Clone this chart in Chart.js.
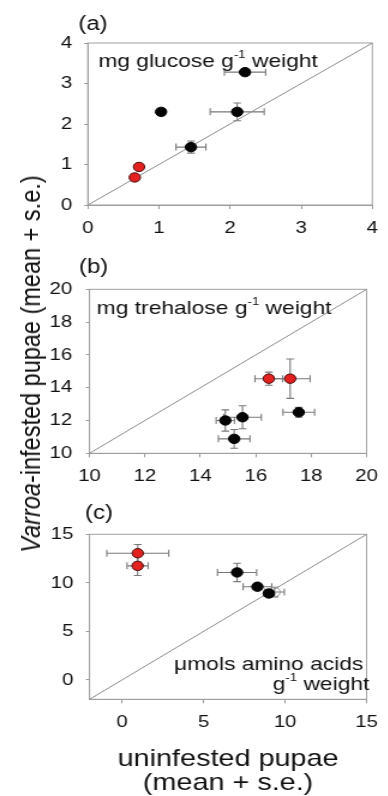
<!DOCTYPE html>
<html>
<head>
<meta charset="utf-8">
<script src="https://cdn.jsdelivr.net/npm/chart.js@4.4.1/dist/chart.umd.min.js"></script>
<style>
  html, body { margin: 0; padding: 0; background: #fff; }
  body { width: 388px; height: 796px; overflow: hidden; position: relative; }
  /* the source figure is stretched sideways, so draw narrow and widen it */
  #fig { position: absolute; left: 0; top: 0; width: 324px; height: 796px; transform: scaleX(1.2); transform-origin: 0 0; }
  #fig canvas { position: absolute; left: 0; }
  #ytitle { position: absolute; left: 26.3px; top: 364px; transform: translate(-50%, -50%) rotate(-90deg);
            white-space: nowrap; font: 23.5px "Liberation Sans", Arial, sans-serif; color: #111; }
</style>
</head>
<body>
<div id="fig">
  <canvas id="chartA" width="324" height="245" style="top:0px"></canvas>
  <canvas id="chartB" width="324" height="245" style="top:245px"></canvas>
  <canvas id="chartC" width="324" height="306" style="top:490px"></canvas>
  <div id="ytitle"><i>Varroa</i>-infested pupae (mean + s.e.)</div>
</div>
<script>
Chart.defaults.font.family = '"Liberation Sans", Arial, Helvetica, sans-serif';
Chart.defaults.color = '#111';

// (a) glucose
const rangeA = [0, 4];
const ticksA = [0, 1, 2, 3, 4];
const blackA_x = [2.21, 1.03, 2.10, 1.45];
const blackA_y = [3.28, 2.30, 2.30, 1.43];
const blackA_xErr = [0.29, 0.05, 0.38, 0.21];
const blackA_yErr = [0.06, 0.06, 0.22, 0.15];
const redA_x = [0.72, 0.66];
const redA_y = [0.94, 0.68];
const redA_xErr = [0, 0];
const redA_yErr = [0, 0];

// (b) trehalose
const rangeB = [10, 20];
const ticksB = [10, 12, 14, 16, 18, 20];
const blackB_x = [14.90, 15.52, 15.22, 17.55];
const blackB_y = [12.00, 12.20, 10.88, 12.50];
const blackB_xErr = [0.33, 0.68, 0.57, 0.57];
const blackB_yErr = [0.65, 0.70, 0.57, 0.30];
const redB_x = [16.47, 17.24];
const redB_y = [14.55, 14.55];
const redB_xErr = [0.50, 0.72];
const redB_yErr = [0.40, 1.20];

// (c) amino acids
const rangeC = [-2, 15];
const ticksC = [0, 5, 10, 15];
const blackC_x = [7.05, 8.30, 9.00];
const blackC_y = [11.07, 9.60, 8.90];
const blackC_xErr = [1.20, 0.88, 0.30];
const blackC_yErr = [0.95, 0.30, 0.30];
const redC_x = [0.96, 0.95];
const redC_y = [13.05, 11.75];
const redC_xErr = [1.90, 0.65];
const redC_yErr = [0.90, 1.00];
const openC_x = [9.35];
const openC_y = [9.05];
const openC_xErr = [0.60];
const openC_yErr = [0.50];

function pts(xs, ys) { return xs.map((x, i) => ({ x: x, y: ys[i] })); }

function markers(xs, ys, xErr, yErr, fill, edge) {
  return { data: pts(xs, ys), xErr: xErr, yErr: yErr, backgroundColor: fill, borderColor: edge,
           borderWidth: 1, pointRadius: 4.7, pointHoverRadius: 4.7 };
}

function diagonal(range) {
  return { data: pts(range, range), showLine: true, pointRadius: 0, borderColor: '#8c8c8c', borderWidth: 1 };
}

function richText(ctx, parts, x, y, align) {
  const big = '19px "Liberation Sans", Arial, sans-serif';
  const small = '11px "Liberation Sans", Arial, sans-serif';
  let w = 0;
  parts.forEach(p => { ctx.font = p[1] ? small : big; w += ctx.measureText(p[0]).width; });
  let cx = align === 'right' ? x - w : x;
  ctx.textAlign = 'left';
  ctx.textBaseline = 'middle';
  parts.forEach(p => {
    ctx.font = p[1] ? small : big;
    ctx.fillText(p[0], cx, p[1] ? y - 7 : y);
    cx += ctx.measureText(p[0]).width;
  });
}

// box around the plot, error bars under the points, panel letter and note on top
const panelDecor = {
  id: 'panelDecor',
  beforeDatasetsDraw(chart) {
    const { ctx, chartArea: a, scales: { x, y } } = chart;
    ctx.save();
    ctx.strokeStyle = '#a0a0a0';
    ctx.lineWidth = 1;
    ctx.strokeRect(a.left, a.top, a.right - a.left, a.bottom - a.top);
    ctx.strokeStyle = '#7a7a7a';
    ctx.lineWidth = 1.1;
    const capX = 3.2, capY = 3.5;
    chart.data.datasets.forEach(ds => {
      if (!ds.xErr) return;
      ds.data.forEach((p, i) => {
        const px = x.getPixelForValue(p.x), py = y.getPixelForValue(p.y);
        ctx.beginPath();
        if (ds.xErr[i] > 0) {
          const x0 = x.getPixelForValue(p.x - ds.xErr[i]), x1 = x.getPixelForValue(p.x + ds.xErr[i]);
          ctx.moveTo(x0, py); ctx.lineTo(x1, py);
          ctx.moveTo(x0, py - capY); ctx.lineTo(x0, py + capY);
          ctx.moveTo(x1, py - capY); ctx.lineTo(x1, py + capY);
        }
        if (ds.yErr[i] > 0) {
          const y0 = y.getPixelForValue(p.y - ds.yErr[i]), y1 = y.getPixelForValue(p.y + ds.yErr[i]);
          ctx.moveTo(px, y0); ctx.lineTo(px, y1);
          ctx.moveTo(px - capX, y0); ctx.lineTo(px + capX, y0);
          ctx.moveTo(px - capX, y1); ctx.lineTo(px + capX, y1);
        }
        ctx.stroke();
      });
    });
    ctx.restore();
  },
  afterDraw(chart, args, opts) {
    const ctx = chart.ctx;
    ctx.save();
    ctx.fillStyle = '#111';
    ctx.font = '20px "Liberation Sans", Arial, sans-serif';
    ctx.textAlign = 'left';
    ctx.textBaseline = 'middle';
    ctx.fillText(opts.label, opts.labelX, opts.labelY);
    opts.notes.forEach(n => richText(ctx, n.parts, n.x, n.y, n.align));
    ctx.restore();
  }
};

function makeChart(id, c) {
  const H = document.getElementById(id).height;
  const padBottom = 0;
  return new Chart(document.getElementById(id), {
    type: 'scatter',
    data: { datasets: c.datasets },
    options: {
      responsive: false,
      animation: false,
      devicePixelRatio: 1,
      layout: { padding: { top: c.box.top, right: 324 - c.box.right, left: 0, bottom: padBottom } },
      plugins: { legend: { display: false }, tooltip: { enabled: false }, panelDecor: c.decor },
      scales: {
        x: {
          type: 'linear', min: c.range[0], max: c.range[1],
          afterBuildTicks: s => { s.ticks = c.ticks.map(v => ({ value: v })); },
          afterFit: s => { s.height = H - c.box.bottom - padBottom; },
          grid: { drawOnChartArea: false, tickLength: 4, color: '#9a9a9a' },
          border: { color: '#9a9a9a' },
          ticks: { padding: 9, font: { size: 17 }, maxRotation: 0, color: '#111' },
          title: c.xTitle || { display: false }
        },
        y: {
          type: 'linear', min: c.range[0], max: c.range[1],
          afterBuildTicks: s => { s.ticks = c.ticks.map(v => ({ value: v })); },
          afterFit: s => { s.width = c.box.left; },
          grid: { drawOnChartArea: false, tickLength: 3, color: '#9a9a9a' },
          border: { color: '#9a9a9a' },
          ticks: { padding: c.yPad, font: { size: 17 }, color: '#111' }
        }
      }
    },
    plugins: [panelDecor]
  });
}

makeChart('chartA', {
  range: rangeA, ticks: ticksA, yPad: 10,
  box: { left: 73.2, right: 313.3, top: 43, bottom: 205 },
  datasets: [
    markers(redA_x, redA_y, redA_xErr, redA_yErr, '#e3211f', '#4a0a0a'),
    markers(blackA_x, blackA_y, blackA_xErr, blackA_yErr, '#050505', '#000'),
    diagonal(rangeA)
  ],
  decor: { label: '(a)', labelX: 65.3, labelY: 24,
           notes: [{ parts: [['mg glucose g'], ['-1', 1], [' weight']], x: 81.9, y: 62, align: 'left' }] }
});

makeChart('chartB', {
  range: rangeB, ticks: ticksB, yPad: 11.5,
  box: { left: 74.6, right: 309, top: 44.3, bottom: 208.3 },
  datasets: [
    markers(redB_x, redB_y, redB_xErr, redB_yErr, '#e3211f', '#4a0a0a'),
    markers(blackB_x, blackB_y, blackB_xErr, blackB_yErr, '#050505', '#000'),
    diagonal(rangeB)
  ],
  decor: { label: '(b)', labelX: 65.8, labelY: 22.5,
           notes: [{ parts: [['mg trehalose g'], ['-1', 1], [' weight']], x: 80.6, y: 63.5, align: 'left' }] }
});

makeChart('chartC', {
  range: rangeC, ticks: ticksC, yPad: 10.5,
  box: { left: 74.6, right: 311.7, top: 44.3, bottom: 209.3 },
  datasets: [
    markers(redC_x, redC_y, redC_xErr, redC_yErr, '#e3211f', '#4a0a0a'),
    markers(blackC_x, blackC_y, blackC_xErr, blackC_yErr, '#050505', '#000'),
    markers(openC_x, openC_y, openC_xErr, openC_yErr, 'rgba(255,255,255,0)', '#9a9a9a'),
    diagonal(rangeC)
  ],
  xTitle: { display: true, text: ['uninfested pupae', '(mean + s.e.)'], color: '#111',
            font: { size: 24, lineHeight: 1 }, padding: { top: 0, bottom: 1 } },
  decor: { label: '(c)', labelX: 70.8, labelY: 23.5,
           notes: [{ parts: [['\u03bcmols amino acids']], x: 302.8, y: 175, align: 'right' },
                   { parts: [['g'], ['-1', 1], [' weight']], x: 307.8, y: 195, align: 'right' }] }
});
</script>
</body>
</html>
